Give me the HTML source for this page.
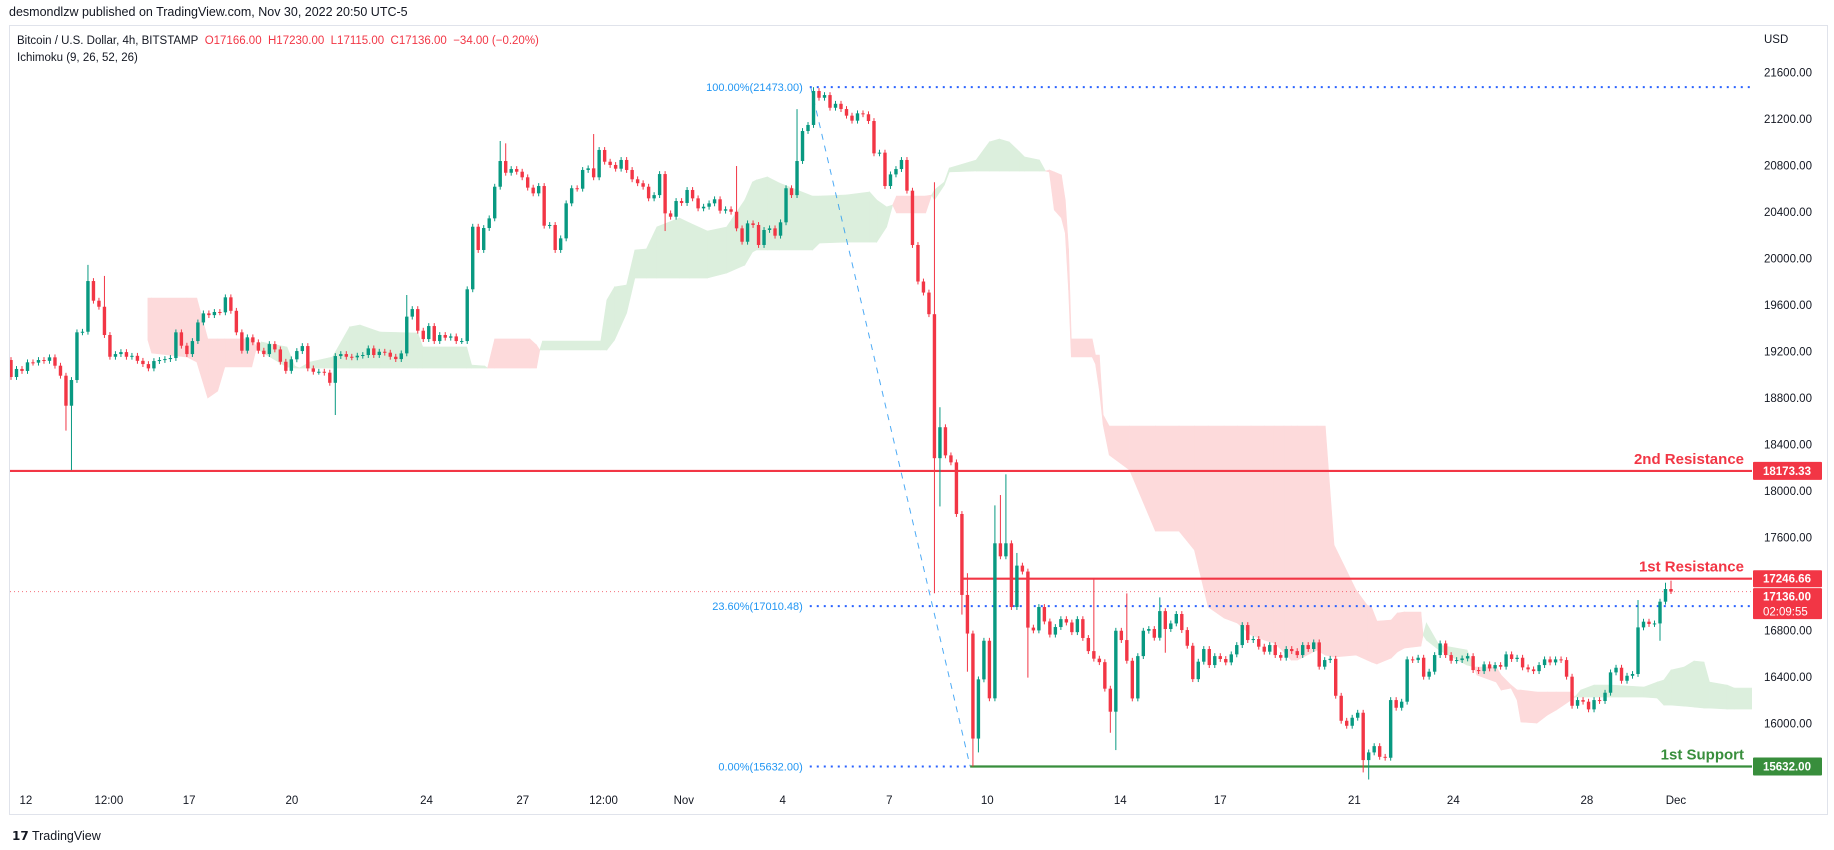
<!DOCTYPE html>
<html><head><meta charset="utf-8">
<style>
html,body{margin:0;padding:0;background:#fff;}
body{width:1834px;height:850px;overflow:hidden;position:relative;font-family:"Liberation Sans",sans-serif;color:#131722;}
.abs{position:absolute;white-space:nowrap;}
</style></head>
<body>
<div class="abs" style="left:9px;top:5px;font-size:12.5px;color:#131722;">desmondlzw published on TradingView.com, Nov 30, 2022 20:50 UTC-5</div>
<div class="abs" style="left:17px;top:35px;font-size:11.5px;">Bitcoin / U.S. Dollar, 4h, BITSTAMP&nbsp; <span style="color:#f23645">O17166.00&nbsp; H17230.00&nbsp; L17115.00&nbsp; C17136.00&nbsp; −34.00 (−0.20%)</span></div>
<div class="abs" style="left:17px;top:52px;font-size:11.5px;">Ichimoku (9, 26, 52, 26)</div>
<div class="abs" style="left:1764px;top:34px;font-size:11.5px;">USD</div>
<div class="abs" style="left:12px;top:829px;font-size:12.5px;"><b style="font-size:12px">𝟭𝟳</b> TradingView</div>
<svg id="chart" width="1834" height="850" style="position:absolute;left:0;top:0;"></svg>
<script>
const closes=[18981,19050,19033,19107,19104,19127,19120,19150,19078,18992,
18734,18955,19365,19370,19806,19637,19585,19342,19155,19178,
19195,19155,19163,19120,19092,19055,19118,19127,19135,19144,
19365,19250,19178,19290,19450,19528,19513,19540,19537,19666,
19550,19365,19207,19322,19279,19207,19178,19264,19218,19112,
19034,19133,19204,19247,19055,19026,19026,19018,18931,19161,
19178,19155,19150,19164,19170,19227,19170,19198,19190,19155,
19135,19184,19500,19565,19379,
19307,19419,19290,19342,19319,19330,19290,19290,19735,
20273,20073,20262,20345,20617,20838,20737,20769,20746,20698,
20609,20560,20623,20282,20288,20073,20173,20474,20604,20600,
20761,20775,20698,20933,20832,20804,20772,20847,20761,20681,
20647,20617,20517,20545,20726,20388,20359,20494,20477,20589,
20517,20431,20445,20474,20509,20411,20423,20402,20259,20144,
20302,20288,20116,20245,20259,20196,20311,20604,20545,20838,
21096,21148,21440,21382,21405,21296,21330,21285,21228,21185,21248,21240,21182,20904,20910,20623,20723,20769,20847,20583,20116,
19802,19707,19521,18283,18549,18307,18247,17803,17107,16775,15872,16381,16713,16218,17551,17439,17551,17003,17359,17308,16826,16802,17003,16879,16766,16831,16899,16870,16787,16899,16737,16624,16559,16529,16301,
16103,16799,16719,16541,16217,16581,16799,16814,16739,16968,16814,16862,16943,16805,16670,16383,16533,16642,16504,16581,16556,16527,16596,16676,16848,16719,16728,16662,16619,16676,16590,16567,16642,16624,16590,16676,16642,16699,16490,16547,16558,16240,16025,15982,16051,16094,15687,15753,15807,15715,15707,16203,16137,16189,16553,16547,16567,16404,16447,16590,
16690,16590,16541,16547,16561,16581,16461,16452,16510,16475,16504,16490,16596,16556,16567,16484,16467,16452,16504,16553,16527,16553,16547,16404,16154,16203,16189,16123,16203,16195,16266,16441,16481,16369,16412,16427,16828,16877,16857,16862,17049,17158,17136];
const firstOpen=19127;
const wickHi=[[14,19945],[17,19850],[72,19686],[89,21010],[90,20990],[106,21070],[132,20795],[143,21284],[146,21473],[168,20655],[169,18721],[174,17294],[179,17877],[180,17966],[181,18144],[183,17468],[197,17240],[203,17120],[209,17086],[296,17063],[301,17212],[302,17230]];
const wickLo=[[10,18520],[11,18180],[59,18654],[119,20236],[168,17122],[169,17868],[173,16938],[174,16447],[175,15632],[176,15753],[185,16396],[200,15922],[201,15773],[210,16610],[246,15581],[247,15520],[300,16713],[302,17115]];
const cloudIdx=[24.9,25.6,32,33.8,35.8,37.6,38.9,43.8,44.7,45.6,50.2,51.6,52.5,54.4,58.5,61.6,63.5,67.1,74,74.9,82.9,83.8,86.2,86.7,88,94.4,95.6,96.2,96.7,107.3,108.4,109.8,112,113.5,115.6,117.5,121.6,123.5,126.7,130.2,133.5,134.9,135.6,137.6,139.8,145.8,147.1,152,156.2,157.5,159.3,160.4,161.1,166.4,167.5,168,169.8,170.7,175.6,178,179.8,181.6,183.5,184.4,187.1,188.2,188.9,189.8,191.1,191.8,192.4,192.9,196.7,197.3,198,198.7,199.8,203.5,208.2,212.5,215.3,217.8,220.7,223.1,225.6,228,229.8,231.6,232.9,234,237.6,239.1,240.7,244.7,246.7,247.5,248.5,251.1,252.2,253.5,256.5,256.9,257.5,259.8,264.9,266.2,266.7,270.2,271.1,272.9,274,274.7,277.6,279.5,281.1,283.8,284.5,285.6,288,291.1,297.1,299.5,300.7,302,304.4,306.2,308,309,312.2,313.5,317.1];
const spanA=[19299,19187,19153,19110,18800,18860,19067,19067,19239,19282,19239,19075,19058,19110,19153,19411,19428,19368,19359,19239,19239,19084,19075,19058,19058,19058,19058,19213,19290,19290,19643,19755,19772,20073,20082,20271,20348,20305,20236,20271,20503,20658,20675,20701,20649,20537,20537,20546,20572,20503,20443,20460,20391,20391,20546,20589,20658,20778,20847,21002,21027,21002,20916,20873,20847,20752,20744,20417,20348,20219,19729,19153,19153,19093,18869,18568,18310,18181,17656,17656,17493,17003,16908,16865,16762,16719,16693,16616,16547,16547,16633,16590,16573,16590,16547,16530,16513,16564,16616,16650,16667,16762,16865,16676,16633,16487,16418,16358,16289,16306,16203,16014,16005,16074,16117,16203,16229,16289,16332,16332,16315,16358,16375,16461,16487,16539,16530,16358,16332,16306,16306];
const spanB=[19660,19660,19660,19660,19308,19308,19308,19308,19239,19196,19067,19058,19058,19058,19058,19058,19058,19058,19058,19058,19058,19058,19058,19058,19308,19308,19256,19213,19213,19213,19213,19299,19531,19832,19832,19832,19832,19832,19832,19875,19944,20056,20073,20073,20073,20073,20133,20141,20141,20141,20271,20460,20537,20537,20546,20503,20632,20744,20752,20752,20752,20752,20752,20752,20752,20752,20761,20744,20718,20503,20082,19308,19308,19170,19170,18654,18559,18559,18559,18559,18559,18559,18559,18559,18559,18559,18559,18559,18559,18559,18559,18559,17536,17149,17020,17003,16882,16891,16951,16960,16960,16762,16719,16633,16504,16487,16487,16487,16418,16332,16289,16289,16272,16272,16272,16272,16229,16229,16229,16229,16229,16220,16160,16160,16151,16143,16134,16134,16126,16126,16126];
const yTicks=[21600,21200,20800,20400,20000,19600,19200,18800,18400,18000,17600,16800,16400,16000];
const xTickLabels=["12","12:00","17","20","24","27","12:00","Nov","4","7","10","14","17","21","24","28","Dec"];
const xTickIdx=[2.7,17.8,32.4,51.1,75.6,93.1,107.8,122.4,140.4,159.8,177.6,201.8,220,244.4,262.4,286.7,302.9];
const levels=[{name:"2nd Resistance",price:18173.33,from:-2,color:"#f23645",key:"second-resistance"},{name:"1st Resistance",price:17246.66,from:173.2,color:"#f23645",key:"first-resistance"},{name:"1st Support",price:15632,from:174.5,color:"#388e3c",key:"first-support"}];
const fibHigh=21473, fibLow=15632, fibHighIdx=145.5, fibLowIdx=174.5;

const NS="http://www.w3.org/2000/svg";
const svg=document.getElementById('chart');
const PL=10, PR=1752, PT=26, PB=790;
const step=(1671-11)/(closes.length-1);
function X(i){return 11+i*step;}
function Y(p){return 72.4+(21600-p)*0.1163;}
function mk(tag,attrs,parent){const e=document.createElementNS(NS,tag);for(const k in attrs)e.setAttribute(k,attrs[k]);(parent||svg).appendChild(e);return e;}

const frame=mk('rect',{x:9.5,y:25.5,width:1818,height:789,fill:'none',stroke:'#e0e3eb','stroke-width':1});



const defs=mk('defs',{});
const cp=mk('clipPath',{id:'plotclip'},defs);
mk('rect',{x:PL,y:PT,width:PR-PL,height:PB-PT},cp);
const plot=mk('g',{'clip-path':'url(#plotclip)'});



const cloudG=mk('g',{},plot);


function quad(x1,a1,b1,x2,a2,b2,col){
  const poly=mk('polygon',{points:`${X(x1)},${Y(a1)} ${X(x2)},${Y(a2)} ${X(x2)},${Y(b2)} ${X(x1)},${Y(b1)}`,fill:col,stroke:col,'stroke-width':0.6},cloudG);
  
  
}
const GREEN='#dcefdd', RED='#fddadb';
for(let k=0;k<cloudIdx.length-1;k++){
  const x1=cloudIdx[k],x2=cloudIdx[k+1],a1=spanA[k],a2=spanA[k+1],b1=spanB[k],b2=spanB[k+1];
  const d1=a1-b1,d2=a2-b2;
  if(d1*d2<0){
    const t=d1/(d1-d2);const xm=x1+(x2-x1)*t,am=a1+(a2-a1)*t;
    quad(x1,a1,b1,xm,am,am,d1>0?GREEN:RED);
    quad(xm,am,am,x2,a2,b2,d2>0?GREEN:RED);
  } else {
    quad(x1,a1,b1,x2,a2,b2,(d1+d2)>=0?GREEN:RED);
  }
}

const cur=closes[closes.length-1];
const curLine=mk('line',{x1:PL,x2:PR,y1:Y(cur),y2:Y(cur),stroke:'#f23645','stroke-width':1,'stroke-dasharray':'1 3',opacity:0.7},plot);



const fibG=mk('g',{},plot);


const fibLevels=[1,0.236,0];
fibLevels.forEach(f=>{
  const p=fibLow+(fibHigh-fibLow)*f;
  const x2=f===0?X(fibLowIdx):PR;
  const l=mk('line',{x1:X(fibHighIdx)-1,x2:x2,y1:Y(p),y2:Y(p),stroke:'#2962ff','stroke-width':2,'stroke-dasharray':'2 5'},fibG);
  
  
});
const diag=mk('line',{x1:X(fibHighIdx),y1:Y(fibHigh),x2:X(fibLowIdx),y2:Y(fibLow),stroke:'#2196f3','stroke-width':1,'stroke-dasharray':'6 6',opacity:0.8},fibG);



levels.forEach(L=>{
  const l=mk('line',{x1:X(L.from),x2:PR,y1:Y(L.price),y2:Y(L.price),stroke:L.color,'stroke-width':2.2},plot);
  
  
  const t=mk('text',{x:PR-8,y:Y(L.price)-7,'text-anchor':'end','font-size':15,'font-weight':'bold',fill:L.color,'font-family':'Liberation Sans, sans-serif'},plot);
  t.textContent=L.name;
  
  
});

const candG=mk('g',{},plot);


const hiMap={},loMap={};
wickHi.forEach(([i,p])=>hiMap[i]=p);
wickLo.forEach(([i,p])=>loMap[i]=p);
for(let i=0;i<closes.length;i++){
  const o=i===0?firstOpen:closes[i-1], c=closes[i];
  const up=c>=o, col=up?'#089981':'#f23645';
  const hi=hiMap[i]!==undefined?hiMap[i]:Math.max(o,c)+25;
  const lo=loMap[i]!==undefined?loMap[i]:Math.min(o,c)-25;
  const x=X(i);
  const w=mk('line',{x1:x,x2:x,y1:Y(hi),y2:Y(lo),stroke:col,'stroke-width':1},candG);
  
  
  const top=Y(Math.max(o,c)),bot=Y(Math.min(o,c));
  const b=mk('rect',{x:x-1.7,y:top,width:3.4,height:Math.max(1,bot-top),fill:col},candG);
  
  
}

[[1,'100.00%(21473.00)'],[0.236,'23.60%(17010.48)'],[0,'0.00%(15632.00)']].forEach(([f,s])=>{
  const p=fibLow+(fibHigh-fibLow)*f;
  const t=mk('text',{x:X(fibHighIdx)-8,y:Y(p)+4,'text-anchor':'end','font-size':11,fill:'#2196f3','font-family':'Liberation Sans, sans-serif'});
  t.textContent=s;
  
  
});

yTicks.forEach(p=>{
  const t=mk('text',{x:1764,y:Y(p)+4,'font-size':11.5,fill:'#131722','font-family':'Liberation Sans, sans-serif'});
  t.textContent=p.toFixed(2);
  
  
});
function tag(p,text,col,h,yoff,name,line2){
  const y=Y(p)+(yoff||0);
  const r=mk('rect',{x:1753,y:y-h/2,width:69,height:h,fill:col,rx:1});
  
  
  const t=mk('text',{x:1763,y:line2?y-3:y+4,'font-size':11.5,'font-weight':'bold',fill:'#fff','font-family':'Liberation Sans, sans-serif'});
  t.textContent=text;
  
  
  if(line2){const t2=mk('text',{x:1763,y:y+12,'font-size':11.5,fill:'#fff','font-family':'Liberation Sans, sans-serif'});t2.textContent=line2;
    
    }
}
tag(18173.33,'18173.33','#f23645',18,0,'second-resistance-tag');
tag(17246.66,'17246.66','#f23645',17,0,'first-resistance-tag');
tag(cur,cur.toFixed(2),'#f23645',31,12,'last-price-tag','02:09:55');
tag(15632,'15632.00','#388e3c',18,0,'first-support-tag');

xTickIdx.forEach((i,k)=>{
  const t=mk('text',{x:X(i),y:804,'text-anchor':'middle','font-size':11.5,fill:'#131722','font-family':'Liberation Sans, sans-serif'});
  t.textContent=xTickLabels[k];
  
  
});
</script>
</body></html>
